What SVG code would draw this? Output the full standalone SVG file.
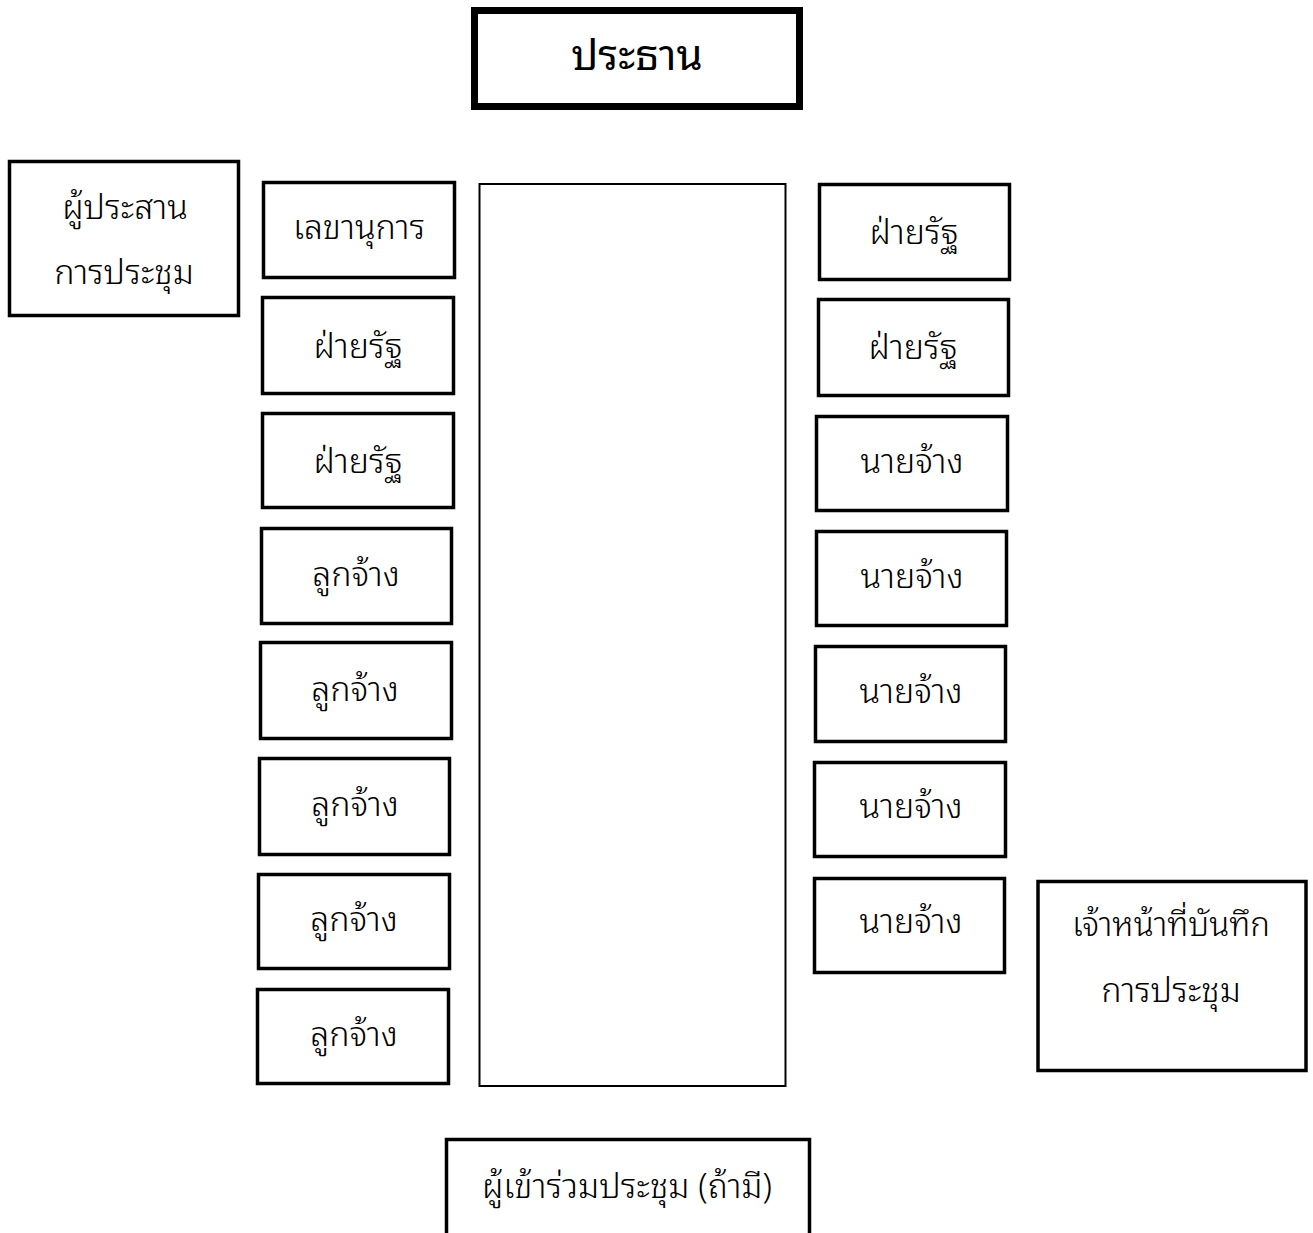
<svg xmlns="http://www.w3.org/2000/svg" width="1313" height="1233" viewBox="0 0 1313 1233">
<style>
.b{fill:#fff;stroke:#000;stroke-width:3.5}
.t{font-family:"Noto Sans Thai Looped","Noto Sans Thai","Noto Sans","DejaVu Sans",sans-serif;font-size:34px;font-weight:300;fill:#000;text-anchor:middle}
</style>
<rect width="1313" height="1233" fill="#fff"/>
<g id="chair"><rect x="474.5" y="10.5" width="325" height="96" fill="#fff" stroke="#000" stroke-width="7"/><text class="t" x="637" y="70" style="font-size:42px;font-weight:400">ประธาน</text></g>
<g id="coordinator"><rect class="b" x="9.5" y="161.5" width="229" height="154"/><text class="t" x="125" y="219">ผู้ประสาน</text><text class="t" x="124" y="284">การประชุม</text></g>
<g id="table"><rect x="479.5" y="184" width="306" height="902" fill="#fff" stroke="#000" stroke-width="2"/></g>
<g id="L1"><rect class="b" x="263.5" y="182.5" width="191" height="95"/><text class="t" x="359" y="239">เลขานุการ</text></g>
<g id="L2"><rect class="b" x="262.5" y="297.5" width="191" height="96"/><text class="t" x="358" y="358">ฝ่ายรัฐ</text></g>
<g id="L3"><rect class="b" x="262.5" y="413.5" width="191" height="94"/><text class="t" x="358" y="473">ฝ่ายรัฐ</text></g>
<g id="L4"><rect class="b" x="261.5" y="528.5" width="190" height="95"/><text class="t" x="356" y="586">ลูกจ้าง</text></g>
<g id="L5"><rect class="b" x="260.5" y="642.5" width="191" height="96"/><text class="t" x="355" y="701">ลูกจ้าง</text></g>
<g id="L6"><rect class="b" x="259.5" y="758.5" width="190" height="96"/><text class="t" x="355" y="816">ลูกจ้าง</text></g>
<g id="L7"><rect class="b" x="258.5" y="874.5" width="191" height="94"/><text class="t" x="354" y="931">ลูกจ้าง</text></g>
<g id="L8"><rect class="b" x="257.5" y="989.5" width="191" height="94"/><text class="t" x="354" y="1046">ลูกจ้าง</text></g>
<g id="R1"><rect class="b" x="819.5" y="184.5" width="190" height="95"/><text class="t" x="914" y="244">ฝ่ายรัฐ</text></g>
<g id="R2"><rect class="b" x="818.5" y="299.5" width="190" height="96"/><text class="t" x="913" y="359">ฝ่ายรัฐ</text></g>
<g id="R3"><rect class="b" x="816.5" y="416.5" width="191" height="94"/><text class="t" x="912" y="473">นายจ้าง</text></g>
<g id="R4"><rect class="b" x="816.5" y="531.5" width="190" height="94"/><text class="t" x="912" y="588">นายจ้าง</text></g>
<g id="R5"><rect class="b" x="815.5" y="646.5" width="190" height="95"/><text class="t" x="911" y="703">นายจ้าง</text></g>
<g id="R6"><rect class="b" x="814.5" y="762.5" width="191" height="94"/><text class="t" x="911" y="818">นายจ้าง</text></g>
<g id="R7"><rect class="b" x="814.5" y="878.5" width="190" height="94"/><text class="t" x="911" y="933">นายจ้าง</text></g>
<g id="recorder"><rect class="b" x="1038" y="881.5" width="268" height="189"/><text class="t" x="1171" y="936" style="font-size:33px">เจ้าหน้าที่บันทึก</text><text class="t" x="1171" y="1002">การประชุม</text></g>
<g id="attendees"><rect class="b" x="446.5" y="1139.5" width="363" height="120"/><text class="t" x="627" y="1198">ผู้เข้าร่วมประชุม (ถ้ามี)</text></g>
</svg>
